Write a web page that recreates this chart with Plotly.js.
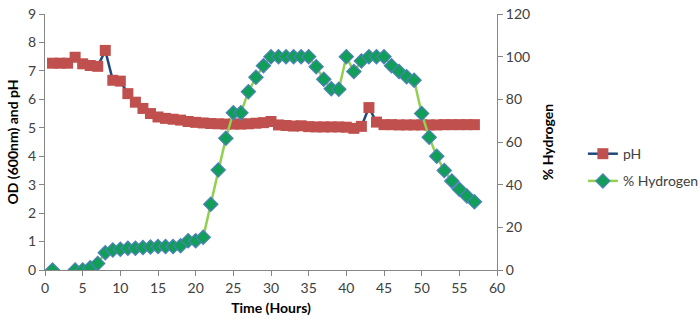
<!DOCTYPE html>
<html>
<head>
<meta charset="utf-8">
<script src="https://cdn.plot.ly/plotly-3.0.1.min.js"></script>
<style>
  html, body { margin: 0; padding: 0; background: #fff; }
  #chart { width: 700px; height: 326px; }
</style>
</head>
<body>
<div id="chart"></div>
<script>
/* pH and % hydrogen over time — dual axis line chart */

const hours = [1, 2, 3, 4, 5, 6, 7, 8, 9, 10, 11, 12, 13, 14, 15, 16, 17, 18, 19, 20,
  21, 22, 23, 24, 25, 26, 27, 28, 29, 30, 31, 32, 33, 34, 35, 36, 37, 38, 39, 40,
  41, 42, 43, 44, 45, 46, 47, 48, 49, 50, 51, 52, 53, 54, 55, 56, 57];

const pH = [7.27, 7.27, 7.27, 7.48, 7.25, 7.19, 7.16, 7.72, 6.67, 6.64,
  6.2, 5.9, 5.68, 5.5, 5.38, 5.33, 5.3, 5.27, 5.22, 5.19,
  5.17, 5.15, 5.14, 5.13, 5.13, 5.13, 5.14, 5.16, 5.18, 5.22,
  5.1, 5.08, 5.06, 5.07, 5.04, 5.03, 5.03, 5.03, 5.03, 5.02,
  4.98, 5.05, 5.71, 5.2, 5.11, 5.11, 5.1, 5.1, 5.1, 5.1,
  5.1, 5.1, 5.11, 5.11, 5.11, 5.11, 5.11];

const hydrogen = [0, null, null, 0, 0, 1.1, 3.1, 8.1, 9.4, 9.7,
  10.2, 10.2, 10.5, 10.8, 11, 11, 11, 11.4, 13.7, 13.7,
  15.3, 30.8, 46.9, 61.7, 73.7, 73.7, 83.6, 90.3, 95.8, 100,
  100, 100, 100, 100, 100, 95.3, 89.4, 85, 84.7, 100,
  93, 98, 100, 100, 100, 95.8, 93, 90.6, 89, 73.4,
  62.2, 53.3, 46.6, 41.7, 37.8, 34.7, 32];

const FONT = 'Lato, "Open Sans", sans-serif';
const AXIS_GREY = '#868686';
const TEXT = '#404040';

const traces = [
  {
    x: hours, y: pH, name: 'pH', mode: 'lines+markers', yaxis: 'y', legendgroup: 'a',
    line: { color: '#1F497D', width: 2.5 },
    marker: { symbol: 'square', size: 11, color: '#C0504D', line: { width: 0 } }
  },
  {
    x: hours, y: hydrogen, name: '% Hydrogen', mode: 'lines+markers', yaxis: 'y2', legendgroup: 'b',
    connectgaps: false,
    line: { color: '#92D050', width: 2.5 },
    marker: { symbol: 'diamond', size: 11, color: '#109E58', line: { color: '#4F81BD', width: 1.2 } }
  }
];

const axisBase = {
  automargin: false,
  showgrid: false, zeroline: false, showline: true, linecolor: AXIS_GREY, linewidth: 1,
  ticks: 'outside', ticklen: 5, tickcolor: AXIS_GREY,
  tickfont: { family: FONT, size: 14, color: TEXT }
};

const layout = {
  width: 700, height: 326,
  margin: { l: 45, r: 203, t: 14, b: 56, autoexpand: false },
  paper_bgcolor: '#fff', plot_bgcolor: '#fff',
  font: { family: FONT, color: TEXT },
  xaxis: {
    ...axisBase, range: [0, 60], dtick: 5,
    title: { text: '<b>Time (Hours)</b>', font: { family: FONT, size: 14, color: '#000' }, standoff: 8 }
  },
  yaxis: {
    ...axisBase, range: [0, 9], dtick: 1,
    title: { text: '<b>OD (600nm) and pH</b>', font: { family: FONT, size: 14, color: '#000' }, standoff: 6 }
  },
  yaxis2: {
    ...axisBase, range: [0, 120], dtick: 20, overlaying: 'y', side: 'right',
    title: { text: '<b>% Hydrogen</b>', font: { family: FONT, size: 14, color: '#000' }, standoff: 14 }
  },
  showlegend: true,
  legend: {
    x: 1.19, y: 0.4, xanchor: 'left', yanchor: 'middle',
    font: { family: FONT, size: 14, color: TEXT },
    tracegroupgap: 6, itemwidth: 30, bgcolor: 'rgba(0,0,0,0)'
  }
};

Plotly.newPlot('chart', traces, layout, { displayModeBar: false, staticPlot: true });
</script>
</body>
</html>
